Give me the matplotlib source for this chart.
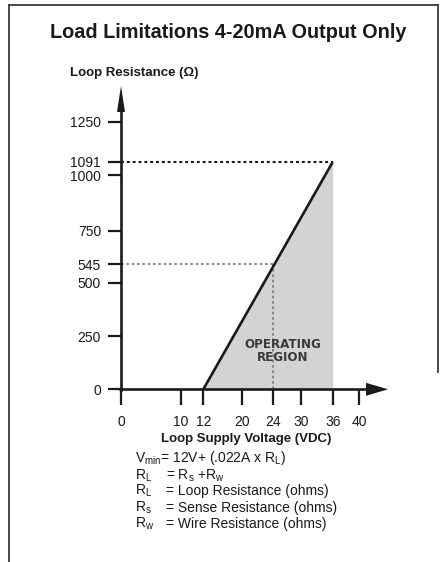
import numpy as np
import matplotlib
matplotlib.use("Agg")
import matplotlib.pyplot as plt
from matplotlib.scale import FuncScale
from matplotlib.patches import Polygon
from matplotlib.lines import Line2D

plt.rcParams['font.family'] = ['Liberation Sans', 'DejaVu Sans']
plt.rcParams['mathtext.fontset'] = 'custom'
plt.rcParams['mathtext.rm'] = 'Liberation Sans'
plt.rcParams['mathtext.it'] = 'Liberation Sans:italic'
plt.rcParams['mathtext.bf'] = 'Liberation Sans:bold'

# ---------------- data ----------------
title = "Load Limitations 4-20mA Output Only"
x_label = "Loop Supply Voltage (VDC)"
y_label = "Loop Resistance (\u03a9)"
x_ticks = [0, 10, 12, 20, 24, 30, 36, 40]
y_ticks = [0, 250, 500, 545, 750, 1000, 1091, 1250]
supply_v = [12, 36]          # VDC
loop_r = [0, 1091]           # ohms
ref_v = 24
ref_r = 545
max_v = 36
max_r = 1091
region_label = "OPERATING\nREGION"

# ---------------- layout (schematic, non-linear axes) ----------------
W, H = 444, 562
x_tick_px = [121, 181, 203.3, 242.3, 273.3, 301, 332.7, 359.3]
y_tick_px = [389.3, 336, 282.7, 264, 230.7, 175.3, 162, 121.7]   # from top


def make_scale(vals, pos):
    vals = np.asarray(vals, float)
    pos = np.asarray(pos, float)
    s0 = (pos[1] - pos[0]) / (vals[1] - vals[0])
    s1 = (pos[-1] - pos[-2]) / (vals[-1] - vals[-2])

    def fwd(v):
        v = np.asarray(v, float)
        out = np.interp(v, vals, pos)
        out = np.where(v < vals[0], pos[0] + (v - vals[0]) * s0, out)
        out = np.where(v > vals[-1], pos[-1] + (v - vals[-1]) * s1, out)
        return out

    def inv(p):
        p = np.asarray(p, float)
        out = np.interp(p, pos, vals)
        out = np.where(p < pos[0], vals[0] + (p - pos[0]) / s0, out)
        out = np.where(p > pos[-1], vals[-1] + (p - pos[-1]) / s1, out)
        return out
    return fwd, inv


fig = plt.figure(figsize=(W / 100, H / 100), dpi=100)

x0, x1 = x_tick_px[0], x_tick_px[-1]
yb, yt = y_tick_px[0], y_tick_px[-1]
ax = fig.add_axes([x0 / W, 1 - yb / H, (x1 - x0) / W, (yb - yt) / H])
ax.set_xscale(FuncScale(ax.xaxis, make_scale(x_ticks, x_tick_px)))
ax.set_yscale(FuncScale(ax.yaxis, make_scale(y_ticks, [H - p for p in y_tick_px])))
ax.set_xlim(x_ticks[0], x_ticks[-1])
ax.set_ylim(y_ticks[0], y_ticks[-1])
ax.patch.set_alpha(0)
for s in ax.spines.values():
    s.set_visible(False)

ink = '#1a1a1a'
ax.fill_between(supply_v, 0, loop_r, color='#d3d3d5', lw=0, zorder=1)
ax.plot([0, max_v], [max_r, max_r], color=ink, lw=1.5, dashes=(1.4, 1.4),
        dash_capstyle='butt', zorder=2, clip_on=False)
ax.plot([0, ref_v], [ref_r, ref_r], color='#7a7a7a', lw=1.2, dashes=(1.6, 1.6),
        zorder=2, clip_on=False)
ax.plot([ref_v, ref_v], [0, ref_r], color='#7a7a7a', lw=1.2, dashes=(1.6, 1.6),
        zorder=2, clip_on=False)
ax.plot(supply_v, loop_r, color=ink, lw=1.9, solid_capstyle='butt', zorder=3,
        clip_on=False)

ax.set_xticks(x_ticks)
ax.set_xticklabels([str(v) for v in x_ticks])
ax.set_yticks(y_ticks)
ax.set_yticklabels([str(v) for v in y_ticks])
ax.tick_params(axis='x', direction='out', length=11.5, width=1.6, pad=7,
               labelsize=10, colors=ink)
ax.tick_params(axis='y', direction='out', length=9.4, width=1.6, pad=5,
               labelsize=10, colors=ink)

# ---------------- overlay for decorations in pixel coords ----------------
ov = fig.add_axes([0, 0, 1, 1], zorder=5)
ov.set_xlim(0, W)
ov.set_ylim(H, 0)
ov.set_axis_off()
ov.patch.set_alpha(0)

# frame
frame = '#3a3a3a'
ov.add_line(Line2D([8.5, 8.5], [H + 2, 4.5], color=frame, lw=1.3))
ov.add_line(Line2D([8.5, 437.5], [4.5, 4.5], color=frame, lw=1.3))
ov.add_line(Line2D([437.5, 437.5], [4.5, 372], color=frame, lw=1.3))

# axes lines with arrows
ov.add_line(Line2D([x0, x0], [yb + 1, 110], color=ink, lw=1.9))
ov.add_patch(Polygon([[x0 - 4, 112], [x0, 86], [x0 + 4, 112]], closed=True,
                     color=ink, lw=0))
ov.add_line(Line2D([x0 - 1, 368], [yb, yb], color=ink, lw=1.9))
ov.add_patch(Polygon([[366, yb - 6.5], [388, yb], [366, yb + 6.5]], closed=True,
                     color=ink, lw=0))

# texts
ov.text(228, 32, title, ha='center', va='center', fontsize=14.3,
        fontweight='bold', color=ink)
ov.text(70, 73, y_label, ha='left', va='center', fontsize=9.5,
        fontweight='bold', color=ink)
ov.text(246, 439, x_label, ha='center', va='center', fontsize=9.5,
        fontweight='bold', color=ink)
ov.text(283, 351, region_label, ha='center', va='center', fontsize=9.5,
        fontweight='bold', fontstretch='condensed', color='#3a3a3a',
        linespacing=1.0, family=['DejaVu Sans'], zorder=6)

# legend / formula block
fx, fe = 135, 165.5
fy = [457.7, 475.7, 490.7, 507.7, 524.3]
fs = 10
ov.text(fx, fy[0], r"V$_{\mathrm{min}}$= 12V+ (.022A x R$_{\mathrm{L}}$)",
        ha='left', va='center', fontsize=fs, color=ink)
lhs = [r"R$_{\mathrm{L}}$", r"R$_{\mathrm{L}}$", r"R$_{\mathrm{s}}$", r"R$_{\mathrm{w}}$"]
rhs = [r"= R$_{\mathrm{s}}$ +R$_{\mathrm{w}}$", "= Loop Resistance (ohms)",
       "= Sense Resistance (ohms)", "= Wire Resistance (ohms)"]
for yy, l, r in zip(fy[1:], lhs, rhs):
    ov.text(fx, yy, l, ha='left', va='center', fontsize=fs, color=ink)
    ov.text(fe, yy, r, ha='left', va='center', fontsize=fs, color=ink)

fig.savefig("out.png", dpi=100)
